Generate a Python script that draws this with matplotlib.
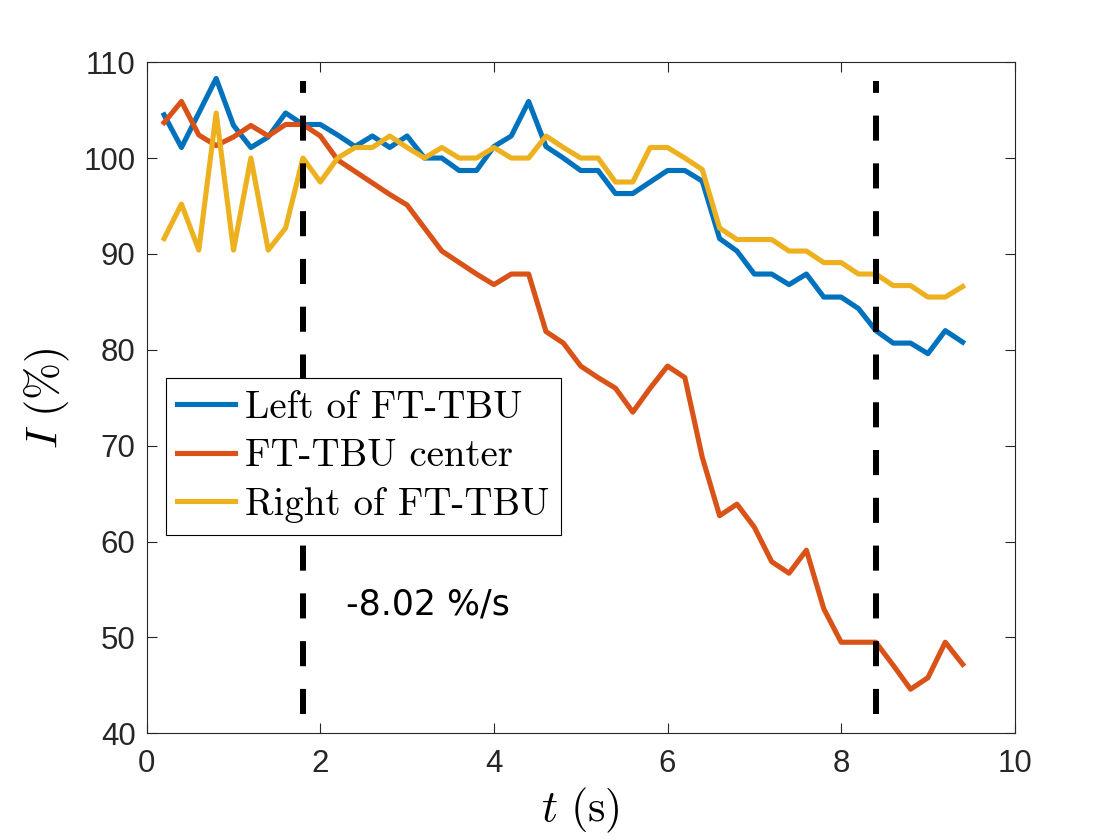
import matplotlib
matplotlib.use("Agg")
import matplotlib.pyplot as plt

# sample times (s)
t = [0.2, 0.4, 0.6, 0.8, 1.0, 1.2, 1.4, 1.6, 1.8, 2.0,
     2.2, 2.4, 2.6, 2.8, 3.0, 3.2, 3.4, 3.6, 3.8, 4.0,
     4.2, 4.4, 4.6, 4.8, 5.0, 5.2, 5.4, 5.6, 5.8, 6.0,
     6.2, 6.4, 6.6, 6.8, 7.0, 7.2, 7.4, 7.6, 7.8, 8.0,
     8.2, 8.4, 8.6, 8.8, 9.0, 9.2, 9.4]

# intensity (%)
left = [104.5, 101.1, 104.7, 108.3, 103.4, 101.1, 102.2, 104.7, 103.5, 103.5,
        102.4, 101.2, 102.3, 101.1, 102.3, 100.0, 100.0, 98.7, 98.7, 101.2,
        102.3, 105.9, 101.2, 100.0, 98.7, 98.7, 96.3, 96.3, 97.5, 98.7,
        98.7, 97.6, 91.6, 90.3, 87.9, 87.9, 86.8, 87.9, 85.5, 85.5,
        84.3, 82.0, 80.7, 80.7, 79.6, 82.0, 80.8]
center = [103.7, 105.9, 102.4, 101.3, 102.2, 103.4, 102.3, 103.5, 103.5, 102.3,
          99.8, 98.6, 97.4, 96.2, 95.1, 92.7, 90.3, 89.1, 87.9, 86.8,
          87.9, 87.9, 81.9, 80.7, 78.3, 77.1, 76.0, 73.5, 76.0, 78.3,
          77.1, 68.8, 62.7, 63.9, 61.5, 57.9, 56.7, 59.1, 53.0, 49.5,
          49.5, 49.5, 47.1, 44.6, 45.8, 49.5, 47.2]
right = [91.6, 95.2, 90.4, 104.7, 90.4, 100.0, 90.4, 92.7, 100.0, 97.5,
         100.0, 101.1, 101.1, 102.3, 101.1, 100.0, 101.1, 100.0, 100.0, 101.1,
         100.0, 100.0, 102.3, 101.1, 100.0, 100.0, 97.5, 97.5, 101.1, 101.1,
         100.0, 98.8, 92.7, 91.5, 91.5, 91.5, 90.3, 90.3, 89.1, 89.1,
         87.9, 87.9, 86.7, 86.7, 85.5, 85.5, 86.6]

labels = ["Left of FT-TBU", "FT-TBU center", "Right of FT-TBU"]
colors = ["#0072BD", "#D95319", "#EDB120"]

# fit window markers
t_start, t_end = 1.8, 8.4
marker_y = [42, 108]
slope_text = "-8.02 %/s"

plt.rcParams["mathtext.fontset"] = "cm"

fig = plt.figure(figsize=(11.2, 8.4), dpi=100)
ax = fig.add_axes([0.131, 0.127, 0.775, 0.799])

for y, lab, c in zip([left, center, right], labels, colors):
    ax.plot(t, y, color=c, lw=3.7, label=lab)

for tx in [t_start, t_end]:
    ax.plot([tx, tx], marker_y, color="black", lw=4.3, dashes=(4.2, 3.8))

ax.text(2.3, 53.4, slope_text, fontsize=25, family="DejaVu Sans",
        ha="left", va="center", color="black")

ax.set_xlim(0, 10)
ax.set_ylim(40, 110)
ax.set_xticks([0, 2, 4, 6, 8, 10])
ax.set_yticks([40, 50, 60, 70, 80, 90, 100, 110])
ax.tick_params(direction="in", length=7, width=0.8, top=True, right=True,
               labelsize=22.5, colors="#262626")
ax.tick_params(axis="x", pad=11)
ax.tick_params(axis="y", pad=8)
for lbl in ax.get_xticklabels() + ax.get_yticklabels():
    lbl.set_family("Liberation Sans")
for s in ax.spines.values():
    s.set_color("#262626")
    s.set_linewidth(0.8)

ax.set_xlabel(r"$t\ (\mathrm{s})$", fontsize=32, labelpad=5)
ax.set_ylabel(r"$I\ (\%)$", fontsize=32, labelpad=8)

leg = ax.legend(loc="upper left", bbox_to_anchor=(0.148, 0.55),
                bbox_transform=fig.transFigure, prop={"family": "cmr10", "size": 28},
                fancybox=False, framealpha=1, edgecolor="black",
                handlelength=1.48, handletextpad=0.25, borderpad=0.3,
                labelspacing=0.33, borderaxespad=0)
leg.get_frame().set_linewidth(0.8)

fig.savefig("out.png", dpi=100)
